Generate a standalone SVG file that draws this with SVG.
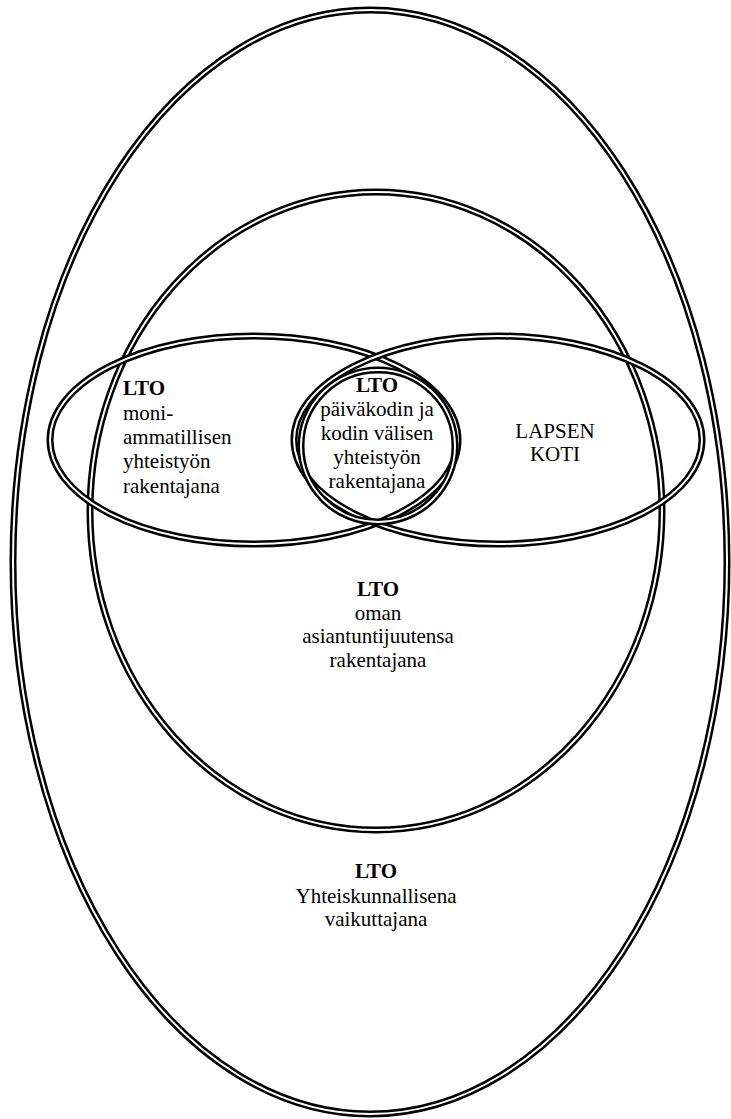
<svg xmlns="http://www.w3.org/2000/svg" xmlns:xlink="http://www.w3.org/1999/xlink" width="731" height="1119" viewBox="0 0 731 1119">
<style>
.ob{fill:none;stroke:#000;stroke-width:7}
.iw{fill:none;stroke:#fff;stroke-width:2}
text{font-family:"Liberation Serif","Times New Roman",serif;font-size:21px;fill:#000}
.b{font-weight:bold}
.c{text-anchor:middle}
</style>
<defs>
<ellipse id="e-outer" cx="370" cy="562" rx="357" ry="552"/>
<ellipse id="e-mid" cx="376" cy="511" rx="286" ry="319"/>
<ellipse id="e-left" cx="254" cy="440" rx="204" ry="104"/>
<ellipse id="e-right" cx="498" cy="440" rx="204" ry="104"/>
<ellipse id="e-center" cx="378" cy="446" rx="77" ry="76"/>
</defs>
<rect width="731" height="1119" fill="#fff"/>
<g id="outer">
<use xlink:href="#e-outer" class="ob"/><use xlink:href="#e-outer" class="iw"/>
<text class="b c" x="376" y="878">LTO</text>
<text class="c" x="376" y="903">Yhteiskunnallisena</text>
<text class="c" x="376" y="926">vaikuttajana</text>
</g>
<g id="middle">
<use xlink:href="#e-mid" class="ob"/><use xlink:href="#e-mid" class="iw"/>
<text class="b c" x="378" y="596">LTO</text>
<text class="c" x="378" y="620">oman</text>
<text class="c" x="378" y="643">asiantuntijuutensa</text>
<text class="c" x="378" y="667">rakentajana</text>
</g>
<g id="left">
<use xlink:href="#e-left" class="ob"/><use xlink:href="#e-left" class="iw"/>
<text class="b" x="123" y="395">LTO</text>
<text x="123" y="420">moni-</text>
<text x="123" y="444">ammatillisen</text>
<text x="123" y="468">yhteistyön</text>
<text x="123" y="493">rakentajana</text>
</g>
<g id="right">
<use xlink:href="#e-right" class="ob"/><use xlink:href="#e-right" class="iw"/>
<text class="c" x="555" y="438">LAPSEN</text>
<text class="c" x="555" y="461">KOTI</text>
</g>
<g id="center">
<use xlink:href="#e-center" class="ob"/><use xlink:href="#e-center" class="iw"/>
<text class="b c" x="377" y="392">LTO</text>
<text class="c" x="377" y="416">päiväkodin ja</text>
<text class="c" x="377" y="440">kodin välisen</text>
<text class="c" x="377" y="464">yhteistyön</text>
<text class="c" x="377" y="488">rakentajana</text>
</g>
<g id="connectors"/>
</svg>
